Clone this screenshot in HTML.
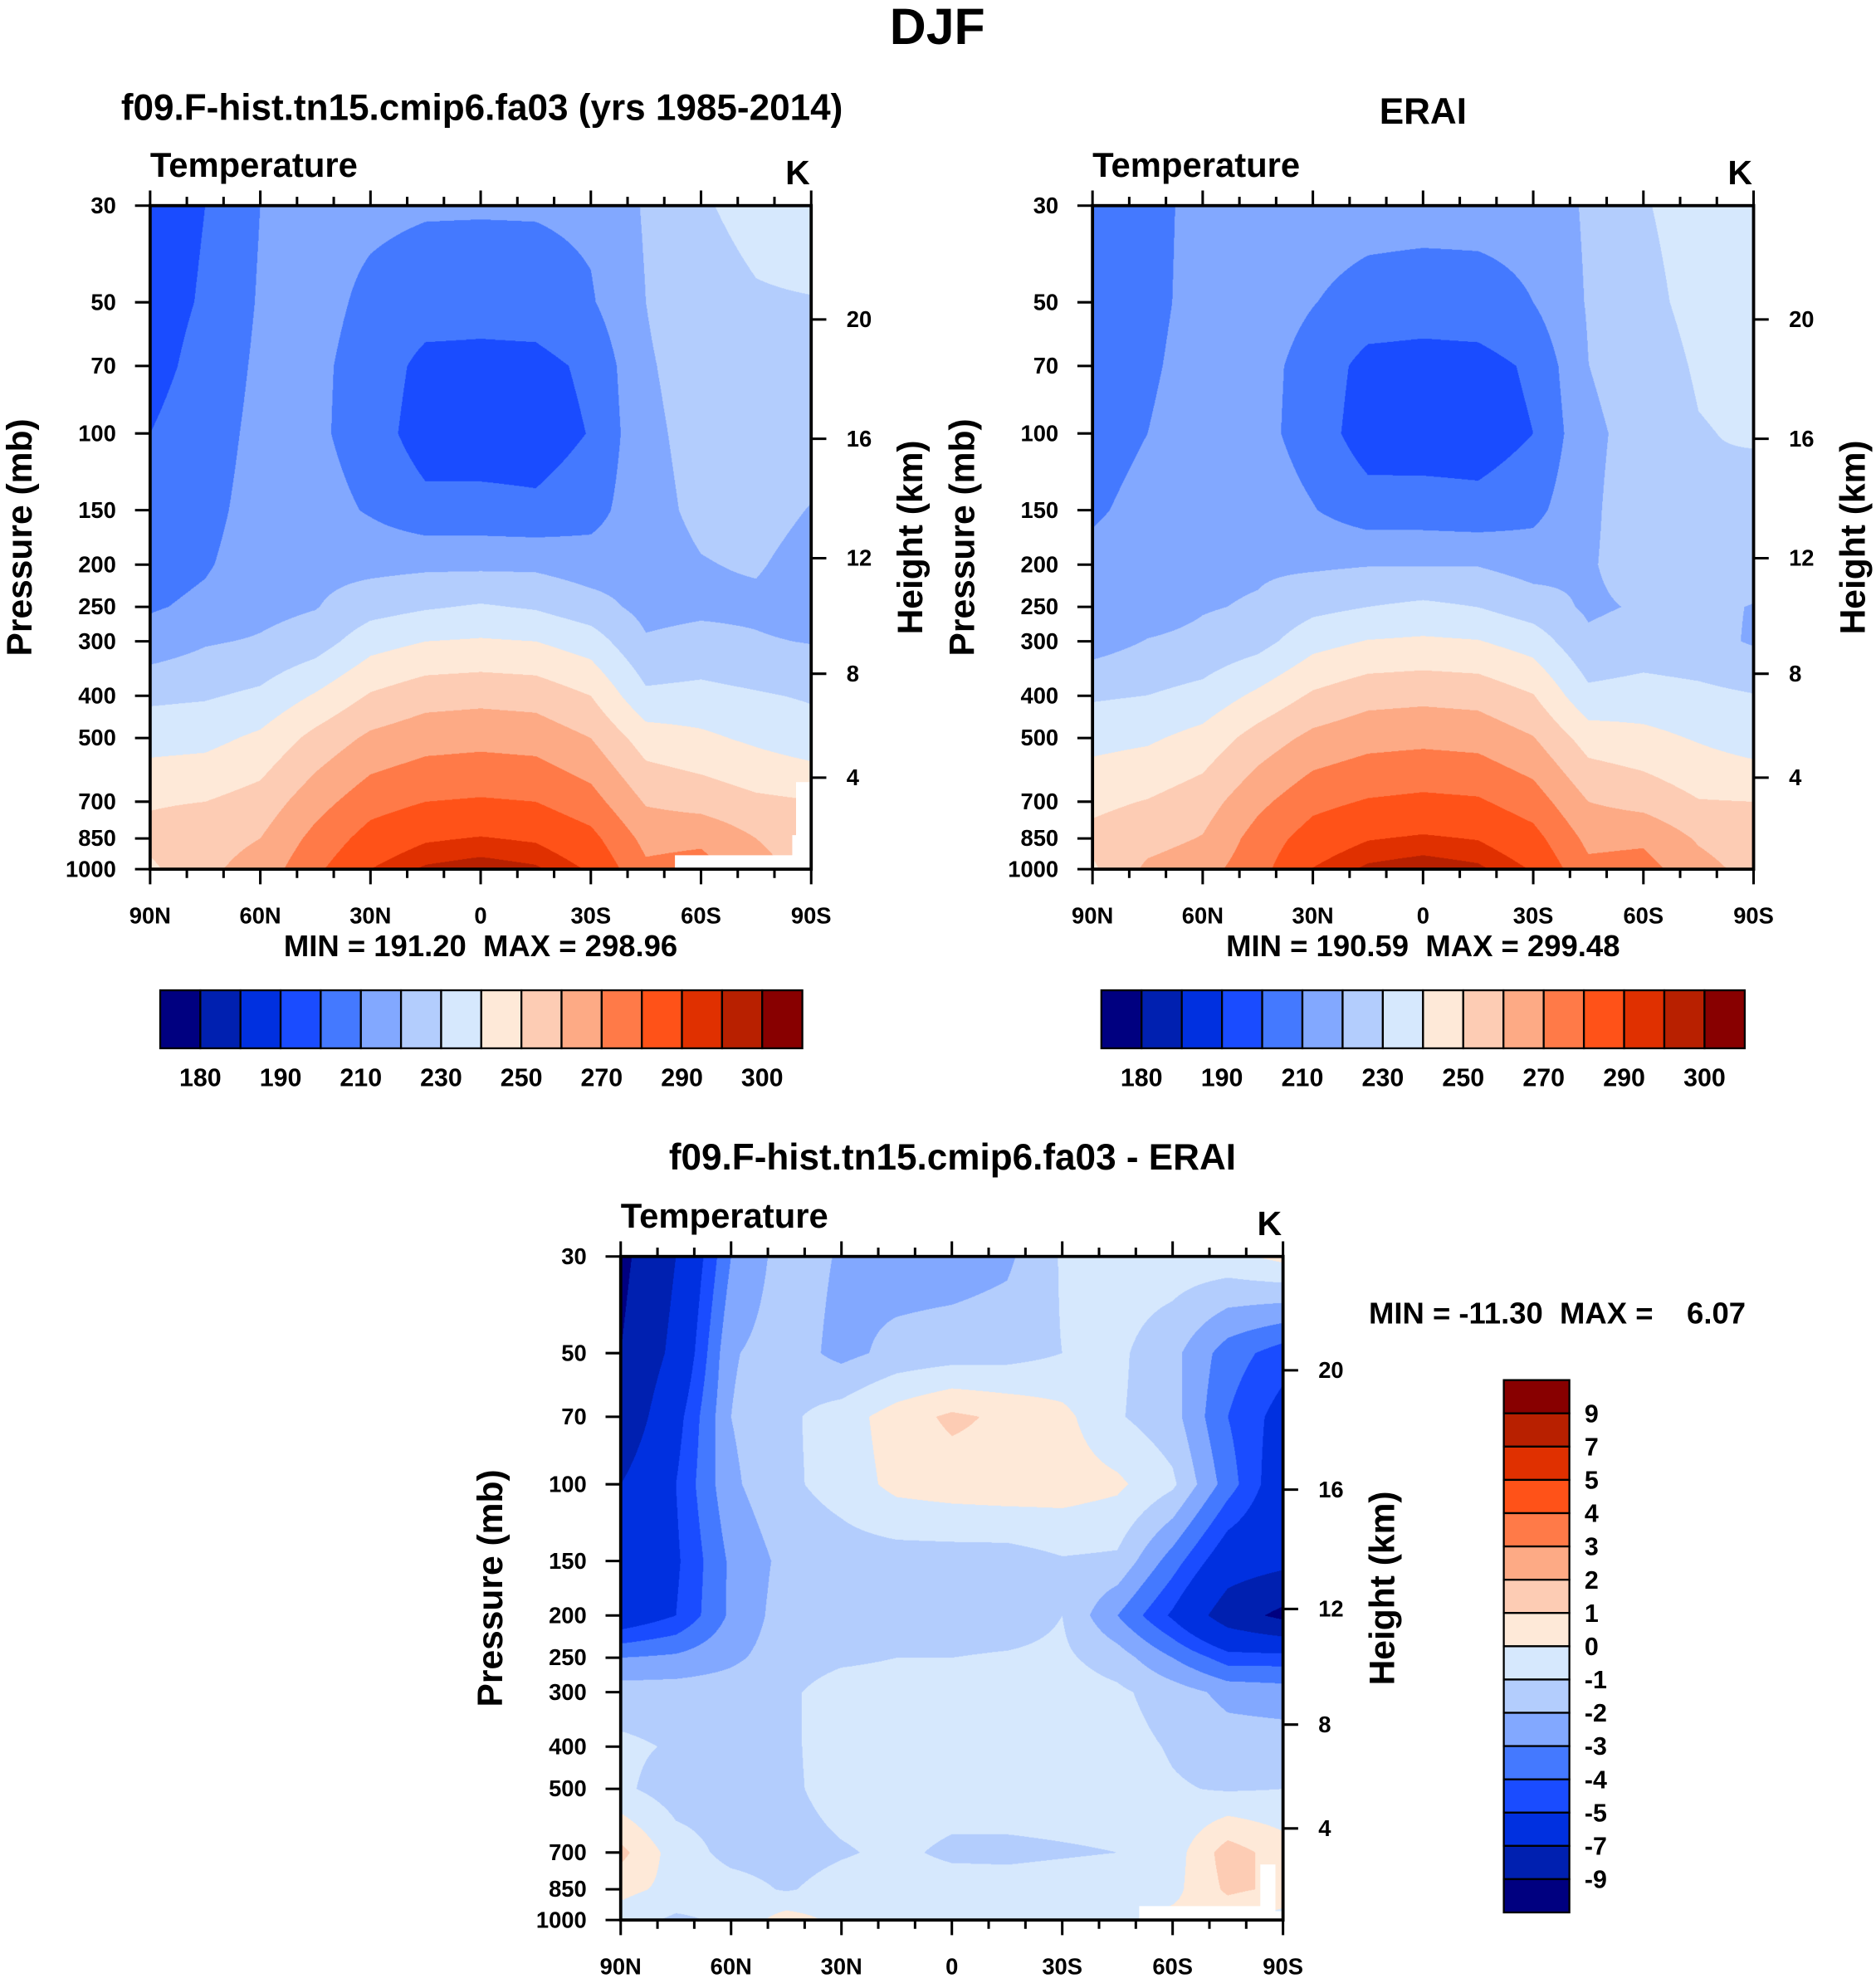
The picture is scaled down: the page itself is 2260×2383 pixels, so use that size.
<!DOCTYPE html>
<html><head><meta charset="utf-8">
<style>
html,body{margin:0;padding:0;background:#fff;}
body{width:2260px;height:2383px;overflow:hidden;position:relative;}
#wrap{position:absolute;left:0;top:0;width:1487px;height:1568px;transform-origin:0 0;transform:scale(1.5198);}
canvas{position:absolute;}
svg{position:absolute;left:0;top:0;}
text{font-family:"Liberation Sans",Arial,sans-serif;font-weight:bold;fill:#000;}
</style></head>
<body>
<div id="wrap">
<canvas id="c1"></canvas>
<canvas id="c2"></canvas>
<canvas id="c3"></canvas>
<svg id="ov" width="1487" height="1568" viewBox="0 0 1487 1568">
<text x="743" y="35" font-size="40" text-anchor="middle">DJF</text>
<text x="382" y="95" font-size="29" text-anchor="middle">f09.F-hist.tn15.cmip6.fa03 (yrs 1985-2014)</text>
<text x="1128" y="98" font-size="29" text-anchor="middle">ERAI</text>
<text x="755" y="927" font-size="29" text-anchor="middle">f09.F-hist.tn15.cmip6.fa03 - ERAI</text>
<text x="381" y="758" font-size="24" text-anchor="middle" xml:space="preserve">MIN = 191.20  MAX = 298.96</text>
<text x="1128" y="758" font-size="24" text-anchor="middle" xml:space="preserve">MIN = 190.59  MAX = 299.48</text>
<text x="1085" y="1049" font-size="24" xml:space="preserve">MIN = -11.30  MAX =    6.07</text>
</svg>
</div>
<script>
const lats=[90,75,60,45,30,15,0,-15,-30,-45,-60,-75,-90];
const plevs=[30,50,70,100,150,200,250,300,400,500,700,850,1000];
const modelT=[
[195,200,210,213,212,211,211,211,212,221,229,233,236],
[196,201,211,213,208,205,204,205,209,220,226,229,229.5],
[197,203,212,212,206,197,197,197,202,219,224,227,227],
[200,205,213,212,205,195,195,195,200.5,218,223,226,225],
[203,207,214,214,209,203,203,202,206,217,222,224,219.5],
[206,209,215,217,217,218,218,218,215,216,219.5,221,216],
[209,212,217,219.5,226,229,231,229,224,217,218,218,215],
[214,219,221,225,236,240,241,240,235,221,223,221,219.5],
[228,229,232,241,251,256,257,256,250,232,233,231,229],
[236,237,242,253,262,266,267,266,260,245,242,238,234],
[249,250,254,266,276,280,281,280,274,259,256,252,250.5],
[253,256,260,273,284,289,290.5,289,283,267,268,260,254],
[248,258,264,278,290,296,298,296,289,272,274,264,256]];
const eraiT=[
[204.5,207,213,214.5,214.1,213.5,213.5,213.2,212.9,221.5,229.4,233.3,235.7],
[205,207.5,213.1,214.5,210.3,206.7,205.5,206.4,210,220.8,227.7,232.5,234],
[205.5,208.5,214,213.2,206.5,196.5,195.8,196.2,201.7,219.9,225.6,231,232.5],
[207,210,215.2,213.2,205.6,194.7,194.5,194.4,200,217.8,223.8,229.5,231],
[209,212.2,216.8,215.7,210.5,204.5,204.5,203.5,207.1,218.2,225.5,230,226],
[212,214,217.8,218.5,218.5,219.5,219.5,219.5,216,219,224.7,229,225.5],
[212,214.8,219.2,221,227.2,230,232,229.9,224.8,218.5,221,222.5,219.5],
[215.5,220.5,222.5,226.2,236.5,240.5,241.5,240.5,235.5,221.8,224.5,223.3,219],
[228.8,230.1,233.3,242.2,251.5,256.5,257.5,256.5,250.5,232.6,234.1,232.5,230.5],
[236.8,238.5,243.4,254.2,262.6,266.5,267.5,266.5,260.5,245.5,242.9,239.1,235],
[247.7,250.5,255.3,267.4,277.1,280.8,282.2,281.2,275.1,260,256.5,250.5,250],
[252.7,256.3,260.6,274.1,284.6,289.5,291,289.6,283.5,267.4,268.3,258.8,253.2],
[248.5,262,266,276.5,290.3,296.3,298.3,296.3,289.3,272.5,273.7,263.8,256.5]];
const diffT=[
[-9.5,-7,-3,-1.5,-2.1,-2.5,-2.5,-2.2,-0.9,-0.5,-0.4,-0.3,0.3],
[-9,-6.5,-2.1,-1.5,-2.3,-1.7,-1.5,-1.4,-1.0,-0.8,-1.7,-3.5,-4.5],
[-8.5,-5.5,-2.0,-1.2,-0.5,0.5,1.2,0.8,0.3,-0.9,-1.6,-4,-5.5],
[-7,-5,-2.2,-1.2,-0.6,0.3,0.5,0.6,0.5,0.2,-0.8,-3.5,-6],
[-6,-5.2,-2.8,-1.7,-1.5,-1.5,-1.5,-1.5,-1.1,-1.2,-3.5,-6,-6.5],
[-6,-5,-2.8,-1.5,-1.5,-1.5,-1.5,-1.5,-1.0,-3,-5.2,-8,-9.5],
[-3,-2.8,-2.2,-1.5,-1.2,-1.0,-1.0,-0.9,-0.8,-1.5,-3,-4.5,-4.5],
[-1.5,-1.5,-1.5,-1.2,-0.5,-0.5,-0.5,-0.5,-0.5,-0.8,-1.5,-2.3,-2.5],
[-0.8,-1.1,-1.3,-1.2,-0.5,-0.5,-0.5,-0.5,-0.5,-0.6,-1.1,-1.5,-1.5],
[-0.8,-1.5,-1.4,-1.2,-0.6,-0.5,-0.5,-0.5,-0.5,-0.5,-0.9,-1.1,-1.0],
[1.3,-0.5,-1.3,-1.4,-1.1,-0.8,-1.2,-1.2,-1.1,-1.0,-0.5,1.5,0.5],
[0.3,-0.3,-0.6,-1.1,-0.6,-0.5,-0.5,-0.6,-0.5,-0.4,-0.3,1.2,0.8],
[-0.5,-1.2,-0.8,0.5,-0.3,-0.3,-0.3,-0.3,-0.3,-0.5,0.3,0.2,-0.5]];
const tempLevels=[180,185,190,200,210,220,230,240,250,260,270,280,290,295,300];
const tempBarLabels=['180','190','210','230','250','270','290','300'];
const diffLevels=[-9,-7,-5,-4,-3,-2,-1,0,1,2,3,4,5,7,9];
const latTickLabels=['90N','60N','30N','0','30S','60S','90S'];
const heightTicks=[20,16,12,8,4];
const palette=['#000080','#0020b0','#0030e0','#1a4cff','#4479ff','#82a8ff','#b3cdfd','#d6e8fd','#fee9d8','#fdccb4','#fdaa85','#ff7a48','#ff5218','#e03000','#b82000','#880000'];

const NS='http://www.w3.org/2000/svg';
const svg=document.getElementById('ov');
const LP0=Math.log(30), LPR=Math.log(1000/30);
function mk(tag,attrs,parent){const e=document.createElementNS(NS,tag);for(const k in attrs)e.setAttribute(k,attrs[k]);(parent||svg).appendChild(e);return e;}
function yOfP(P,p){return P.y+Math.log(p/30)/LPR*P.h;}
function xOfLat(P,lat){return P.x+(90-lat)/180*P.w;}
function pOfZ(zkm){const z=zkm*1000;return z<=11000?1013.25*Math.pow(1-2.25577e-5*z,5.25588):226.32*Math.exp(-(z-11000)/6341.6);}
function hexRGB(h){return [parseInt(h.substr(1,2),16),parseInt(h.substr(3,2),16),parseInt(h.substr(5,2),16)];}
const palRGB=palette.map(hexRGB);
function colorIdx(v,levels){let i=0;while(i<levels.length&&v>=levels[i])i++;return i;}

function drawField(id,P,grid,levels){
  const S=2;
  const c=document.getElementById(id);
  c.width=P.w*S;c.height=P.h*S;
  c.style.left=P.x+'px';c.style.top=P.y+'px';c.style.width=P.w+'px';c.style.height=P.h+'px';
  const ctx=c.getContext('2d');
  const img=ctx.createImageData(c.width,c.height);
  const lpl=plevs.map(Math.log);
  const nl=lats.length-1;
  for(let py=0;py<c.height;py++){
    const lp=LP0+(py+0.5)/c.height*LPR;
    let j=0;while(j<plevs.length-2&&lp>lpl[j+1])j++;
    let ty=(lp-lpl[j])/(lpl[j+1]-lpl[j]);ty=Math.max(0,Math.min(1,ty));
    const r0=grid[j],r1=grid[j+1];
    for(let px=0;px<c.width;px++){
      const fx=(px+0.5)/c.width*nl;
      let i=Math.min(nl-1,Math.floor(fx));const tx=fx-i;
      const v=(r0[i]*(1-tx)+r0[i+1]*tx)*(1-ty)+(r1[i]*(1-tx)+r1[i+1]*tx)*ty;
      const col=palRGB[colorIdx(v,levels)];
      const o=(py*c.width+px)*4;
      img.data[o]=col[0];img.data[o+1]=col[1];img.data[o+2]=col[2];img.data[o+3]=255;
    }
  }
  ctx.putImageData(img,0,0);
}

function drawAxes(P,name){
  const g=mk('g',{});
  
  
  const fr=mk('rect',{x:P.x,y:P.y,width:P.w,height:P.h,fill:'none',stroke:'#000','stroke-width':2.5},g);
  
  
  for(let lat=90;lat>=-90;lat-=10){
    const x=xOfLat(P,lat);const major=(lat%30===0);const L=major?12:7;
    const t1=mk('line',{x1:x,x2:x,y1:P.y,y2:P.y-L,stroke:'#000','stroke-width':2},g);
    
    
    const t2=mk('line',{x1:x,x2:x,y1:P.y+P.h,y2:P.y+P.h+L,stroke:'#000','stroke-width':2},g);
    
    
  }
  latTickLabels.forEach((lb,k)=>{
    const x=xOfLat(P,90-30*k);
    const t=mk('text',{x:x,y:P.y+P.h+43,'font-size':18,'text-anchor':'middle'},g);
    t.textContent=lb;
    
    
  });
  plevs.forEach(p=>{
    const y=yOfP(P,p);
    const l=mk('line',{x1:P.x-12,x2:P.x,y1:y,y2:y,stroke:'#000','stroke-width':2},g);
    
    
    const t=mk('text',{x:P.x-27,y:y+6,'font-size':18,'text-anchor':'end'},g);
    t.textContent=String(p);
    
    
  });
  heightTicks.forEach(z=>{
    const y=yOfP(P,pOfZ(z));
    const l=mk('line',{x1:P.x+P.w,x2:P.x+P.w+12,y1:y,y2:y,stroke:'#000','stroke-width':2},g);
    
    
    const t=mk('text',{x:P.x+P.w+28,y:y+6,'font-size':18},g);
    t.textContent=String(z);
    
    
  });
  const cy=P.y+P.h*0.5;
  const yt=mk('text',{x:0,y:0,'font-size':28,'text-anchor':'middle',transform:`translate(${P.x-94},${cy}) rotate(-90)`},g);
  yt.textContent='Pressure (mb)';
  
  
  const ht=mk('text',{x:0,y:0,'font-size':28,'text-anchor':'middle',transform:`translate(${P.x+P.w+88},${cy}) rotate(-90)`},g);
  ht.textContent='Height (km)';
  
  
  const vt=mk('text',{x:P.x,y:P.y-23,'font-size':27.5},g);
  vt.textContent='Temperature';
  
  
  const ut=mk('text',{x:P.x+P.w-1,y:P.y-17,'font-size':27,'text-anchor':'end'},g);
  ut.textContent='K';
  
  
}

function hBar(x0,y0,w,h,name){
  const g=mk('g',{});
  
  
  const bw=w/16;
  palette.forEach((c,k)=>{
    const r=mk('rect',{x:x0+k*bw,y:y0,width:bw,height:h,fill:c,stroke:'#000','stroke-width':1.5},g);
    
    
  });
  tempBarLabels.forEach((lb,k)=>{
    const t=mk('text',{x:x0+(2*k+1)*bw,y:y0+h+30,'font-size':20,'text-anchor':'middle'},g);
    t.textContent=lb;
    
    
  });
}
function vBar(x0,y0,w,h,name){
  const g=mk('g',{});
  
  
  const bh=h/16;
  for(let k=0;k<16;k++){
    const r=mk('rect',{x:x0,y:y0+k*bh,width:w,height:bh,fill:palette[15-k],stroke:'#000','stroke-width':1.5},g);
    
    
  }
  for(let k=1;k<16;k++){
    const t=mk('text',{x:x0+w+12,y:y0+k*bh+7,'font-size':20},g);
    t.textContent=String(diffLevels[15-k]);
    
    
  }
}

const P1={x:119,y:163,w:524,h:526},P2={x:866,y:163,w:524,h:526},P3={x:492,y:996,w:525,h:526};
drawField('c1',P1,modelT,tempLevels);
drawField('c2',P2,eraiT,tempLevels);
drawField('c3',P3,diffT,diffLevels);
const m1=mk('polygon',{points:'535,678 628,678 628,662 631,662 631,620 643,620 643,689 535,689',fill:'#fff'});


const m3=mk('polygon',{points:'903,1511 999,1511 999,1478 1011,1478 1011,1515 1017,1515 1017,1522 903,1522',fill:'#fff'});


drawAxes(P1,'model');
drawAxes(P2,'erai');
drawAxes(P3,'diff');
hBar(127,785,509,46,'model-colorbar');
hBar(873,785,510,46,'erai-colorbar');
vBar(1192,1094,52,422,'diff-colorbar');
</script>
</body></html>
